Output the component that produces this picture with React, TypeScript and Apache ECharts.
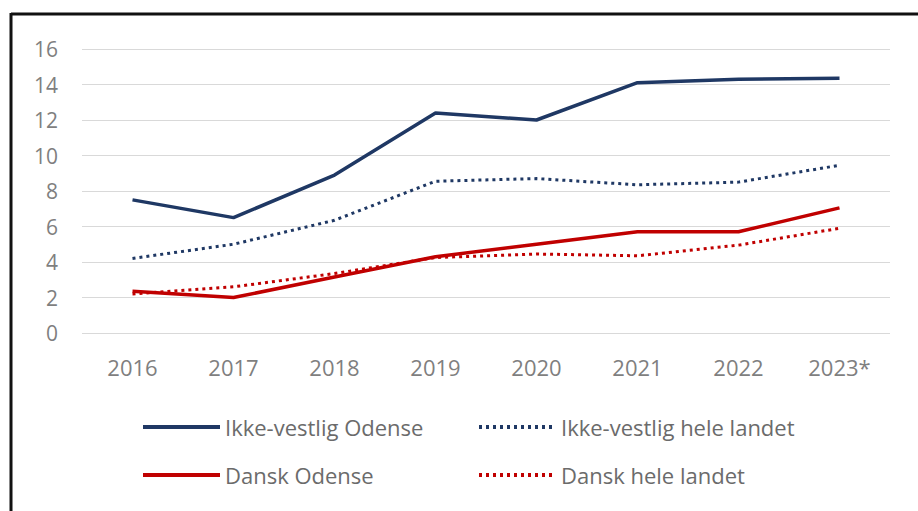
import React, { useEffect, useRef } from "react";
import * as echarts from "echarts";

const years = ["2016", "2017", "2018", "2019", "2020", "2021", "2022", "2023*"];
const ikkeVestligOdense = [7.5, 6.5, 8.9, 12.4, 12.0, 14.1, 14.3, 14.35];
const ikkeVestligHeleLandet = [4.2, 5.0, 6.35, 8.55, 8.7, 8.35, 8.5, 9.45];
const danskOdense = [2.35, 2.0, 3.15, 4.3, 5.0, 5.7, 5.7, 7.05];
const danskHeleLandet = [2.2, 2.6, 3.35, 4.25, 4.45, 4.35, 4.95, 5.9];
const yTicks = { min: 0, max: 16, interval: 2 };

const NAVY = "#1f3864";
const RED = "#c00000";
const FONT = "Open Sans";

export default function App() {
  const ref = useRef<HTMLDivElement>(null);
  useEffect(() => {
    if (!ref.current) return;
    const chart = echarts.init(ref.current, undefined, { renderer: "svg" });
    const legendBase = {
      itemWidth: 77,
      itemHeight: 10,
      itemStyle: { opacity: 0 },
      lineStyle: { width: 4 },
      textStyle: { color: "#6b6b6b", fontSize: 22, fontFamily: FONT },
      itemGap: 4,
    };
    chart.setOption({
      animation: false,
      backgroundColor: "#ffffff",
      textStyle: { fontFamily: FONT },
      grid: { left: 82, right: 28, top: 49, bottom: 178, containLabel: false },
      xAxis: {
        type: "category",
        data: years,
        boundaryGap: true,
        axisLine: { show: false },
        axisTick: { show: false },
        axisLabel: { color: "#7f7f7f", fontSize: 22, fontFamily: FONT, margin: 23 },
      },
      yAxis: {
        type: "value",
        min: yTicks.min,
        max: yTicks.max,
        interval: yTicks.interval,
        axisLine: { show: false },
        axisTick: { show: false },
        axisLabel: { color: "#7f7f7f", fontSize: 21, fontFamily: FONT, margin: 24 },
        splitLine: { lineStyle: { color: "#d9d9d9", width: 1 } },
      },
      legend: [
        { ...legendBase, left: 136, top: 411, data: ["Ikke-vestlig Odense"] },
        { ...legendBase, left: 472, top: 411, data: ["Ikke-vestlig hele landet"] },
        { ...legendBase, left: 136, top: 459, data: ["Dansk Odense"] },
        { ...legendBase, left: 472, top: 459, data: ["Dansk hele landet"] },
      ],
      series: [
        {
          name: "Ikke-vestlig Odense",
          type: "line",
          data: ikkeVestligOdense,
          showSymbol: false,
          symbol: "none",
          color: NAVY,
          lineStyle: { color: NAVY, width: 3.5 },
        },
        {
          name: "Ikke-vestlig hele landet",
          type: "line",
          data: ikkeVestligHeleLandet,
          showSymbol: false,
          symbol: "none",
          color: NAVY,
          lineStyle: { color: NAVY, width: 3, type: [3, 4] },
        },
        {
          name: "Dansk Odense",
          type: "line",
          data: danskOdense,
          showSymbol: false,
          symbol: "none",
          color: RED,
          lineStyle: { color: RED, width: 3.5 },
        },
        {
          name: "Dansk hele landet",
          type: "line",
          data: danskHeleLandet,
          showSymbol: false,
          symbol: "none",
          color: RED,
          lineStyle: { color: RED, width: 3, type: [3, 4] },
        },
      ],
      graphic: [
        { type: "line", shape: { x1: 11, y1: 14, x2: 918, y2: 14 }, style: { stroke: "#111", lineWidth: 3 } },
        { type: "line", shape: { x1: 11, y1: 13, x2: 11, y2: 511 }, style: { stroke: "#111", lineWidth: 3 } },
      ],
    });
    return () => chart.dispose();
  }, []);
  return (
    <div
      ref={ref}
      style={{ position: "fixed", left: 0, top: 0, width: 918, height: 511 }}
    />
  );
}
